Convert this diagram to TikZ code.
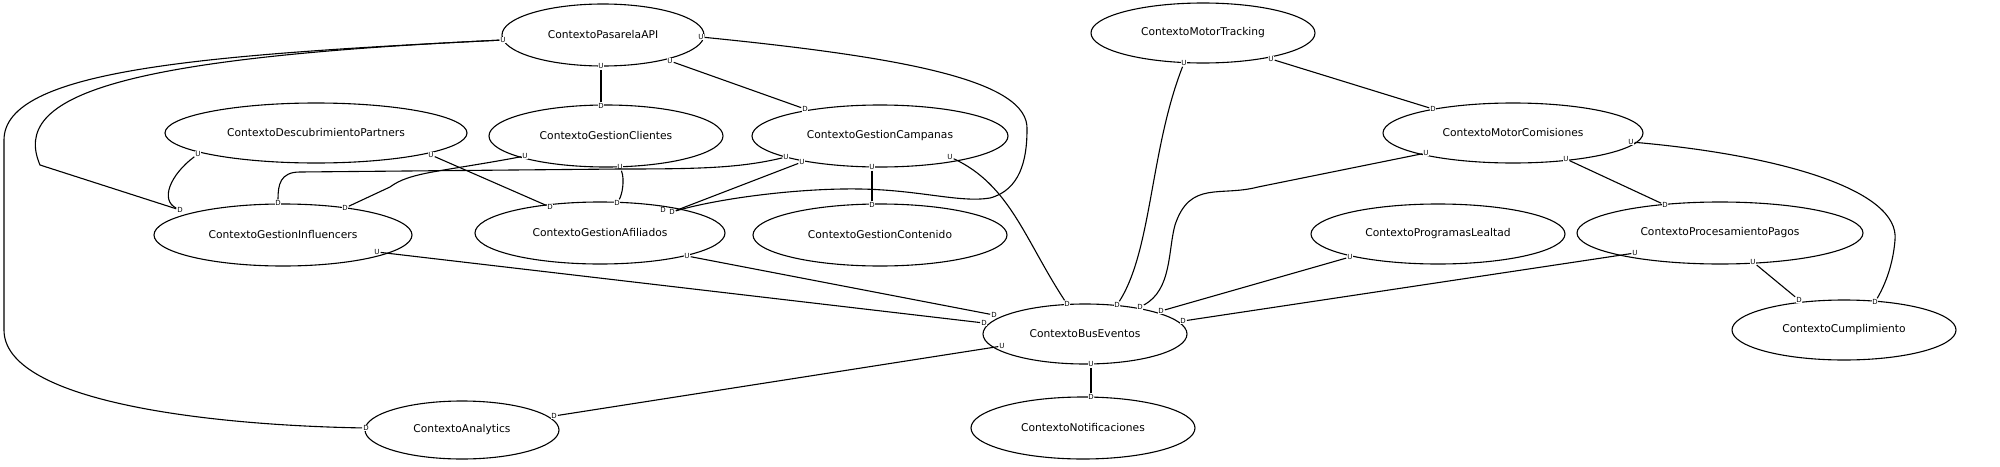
\documentclass[tikz,border=0pt]{standalone}
\usepackage{tikz}
\usepackage{xcolor}
\usepackage{fontspec}
\setmainfont{DejaVu Sans}
\usetikzlibrary{shapes.geometric}

\begin{document}
\begin{tikzpicture}[x=1pt,y=-1pt,line width=1.1pt]
    \tikzstyle{C}=[ellipse,draw,inner sep=0pt,minimum height=62pt,font=\fontsize{10.7}{12}\selectfont]
    \tikzstyle{T}=[fill=white,inner sep=0.6pt,font=\fontsize{7}{8}\selectfont]

    \useasboundingbox (0,0) rectangle (2000,466);

    % Contextos
    \node [C, minimum width=202pt] (pasarela) at (603,35) {ContextoPasarelaAPI};
    \node [C, minimum width=224pt, minimum height=60pt] (tracking) at (1203,33) {ContextoMotorTracking};
    \node [C, minimum width=302pt, minimum height=60pt] (descubrimiento) at (316,133) {ContextoDescubrimientoPartners};
    \node [C, minimum width=234pt] (clientes) at (606,136) {ContextoGestionClientes};
    \node [C, minimum width=256pt] (campanas) at (880,136) {ContextoGestionCampanas};
    \node [C, minimum width=260pt, minimum height=60pt] (comisiones) at (1513,133) {ContextoMotorComisiones};
    \node [C, minimum width=258pt] (influencers) at (283,235) {ContextoGestionInfluencers};
    \node [C, minimum width=250pt] (afiliados) at (600,233) {ContextoGestionAfiliados};
    \node [C, minimum width=254pt] (contenido) at (880,235) {ContextoGestionContenido};
    \node [C, minimum width=254pt, minimum height=60pt] (lealtad) at (1438,234) {ContextoProgramasLealtad};
    \node [C, minimum width=286pt] (pagos) at (1720,233) {ContextoProcesamientoPagos};
    \node [C, minimum width=204pt, minimum height=60pt] (bus) at (1085,334) {ContextoBusEventos};
    \node [C, minimum width=224pt, minimum height=60pt] (cumplimiento) at (1844,330) {ContextoCumplimiento};
    \node [C, minimum width=194pt, minimum height=58pt] (analytics) at (462,430) {ContextoAnalytics};
    \node [C, minimum width=224pt] (notificaciones) at (1083,428) {ContextoNotificaciones};

    % U / D
    \node [T] (pUl) at (503,40) {U};
    \node [T] (pUb) at (601,66) {U};
    \node [T] (pUr2) at (670,61) {U};
    \node [T] (pUr) at (701,37) {U};
    \node [T] (clD) at (601,106) {D};
    \node [T] (clUl) at (525,156) {U};
    \node [T] (clUb) at (620,167) {U};
    \node [T] (cpD) at (805,109) {D};
    \node [T] (cpU1) at (786,157) {U};
    \node [T] (cpU2) at (802,162) {U};
    \node [T] (cpUm) at (872,167) {U};
    \node [T] (cpUr) at (950,157) {U};
    \node [T] (dsUl) at (198,154) {U};
    \node [T] (dsUr) at (431,155) {U};
    \node [T] (inDl) at (180,210) {D};
    \node [T] (inDt) at (278,203) {D};
    \node [T] (inDr) at (345,208) {D};
    \node [T] (inU) at (377,252) {U};
    \node [T] (afDl) at (550,207) {D};
    \node [T] (afDt) at (617,203) {D};
    \node [T] (afD1) at (663,210) {D};
    \node [T] (afD2) at (672,212) {D};
    \node [T] (afU) at (687,256) {U};
    \node [T] (ctD) at (872,205) {D};
    \node [T] (trU1) at (1184,63) {U};
    \node [T] (trU2) at (1271,59) {U};
    \node [T] (cmD) at (1433,109) {D};
    \node [T] (cmU1) at (1426,153) {U};
    \node [T] (cmU2) at (1566,159) {U};
    \node [T] (cmU3) at (1631,142) {U};
    \node [T] (leU) at (1350,257) {U};
    \node [T] (pgD) at (1665,205) {D};
    \node [T] (pgU1) at (1635,253) {U};
    \node [T] (pgU2) at (1753,262) {U};
    \node [T] (cuD1) at (1799,300) {D};
    \node [T] (cuD2) at (1875,302) {D};
    \node [T] (buD1) at (994,315) {D};
    \node [T] (buD2) at (984,323) {D};
    \node [T] (buD3) at (1067,304) {D};
    \node [T] (buD4) at (1117,305) {D};
    \node [T] (buD5) at (1140,307) {D};
    \node [T] (buD6) at (1161,311) {D};
    \node [T] (buD7) at (1183,321) {D};
    \node [T] (buU1) at (1002,346) {U};
    \node [T] (buU2) at (1091,364) {U};
    \node [T] (noD) at (1091,397) {D};
    \node [T] (anDl) at (366,428) {D};
    \node [T] (anDr) at (554,416) {D};

    % relaciones
    \draw (pUl) .. controls (200,55) and (4,70) .. (4,140) -- (4,330) .. controls (4,400) and (200,425) .. (anDl);
    \draw (pUl) .. controls (120,58) and (10,95) .. (40,165) -- (inDl);
    \draw (pUb) -- (clD);
    \draw (pUr2) -- (cpD);
    \draw (pUr) .. controls (901,57) and (1030,80) .. (1027,130) .. controls (1027,160) and (1020,190) .. (990,198)
        .. controls (960,203) and (920,190) .. (860,189) .. controls (800,188) and (720,198) .. (afD2);
    \draw (dsUl) .. controls (170,175) and (160,200) .. (inDl);
    \draw (dsUr) -- (afDl);
    \draw (clUl) .. controls (440,172) and (410,172) .. (390,187) -- (inDr);
    \draw (clUb) .. controls (625,180) and (622,195) .. (afDt);
    \draw (cpU1) .. controls (740,168) and (700,169) .. (620,169) -- (300,172) .. controls (280,172) and (278,185) .. (inDt);
    \draw (cpU2) -- (afD2);
    \draw (cpUm) -- (ctD);
    \draw (cpUr) .. controls (1010,185) and (1025,240) .. (buD3);
    \draw (trU1) .. controls (1150,150) and (1152,250) .. (buD4);
    \draw (trU2) -- (cmD);
    \draw (cmU1) -- (1258,187) .. controls (1220,197) and (1190,180) .. (1175,225) .. controls (1168,250) and (1172,290) .. (buD5);
    \draw (cmU2) -- (pgD);
    \draw (cmU3) .. controls (1780,155) and (1900,190) .. (1895,240) .. controls (1893,265) and (1885,285) .. (cuD2);
    \draw (pgU1) -- (buD7);
    \draw (pgU2) -- (cuD1);
    \draw (leU) -- (buD6);
    \draw (inU) -- (buD2);
    \draw (afU) -- (buD1);
    \draw (buU1) -- (anDr);
    \draw (buU2) -- (noD);
\end{tikzpicture}
\end{document}
